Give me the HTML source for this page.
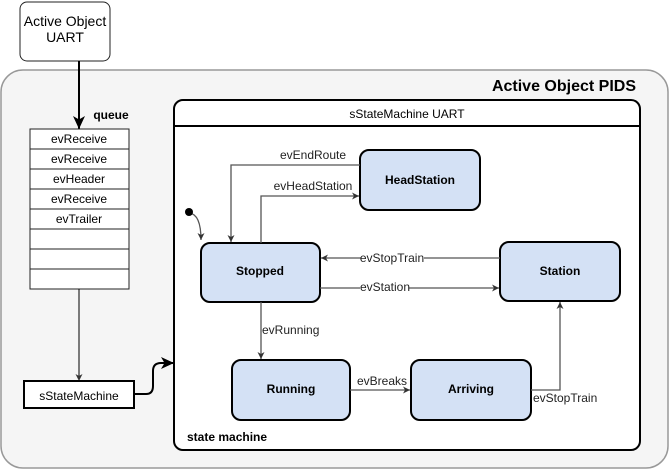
<!DOCTYPE html>
<html><head><style>body{margin:0;background:#fff}svg{display:block;font-family:"Liberation Sans",sans-serif}</style></head>
<body>
<svg width="672" height="471" viewBox="0 0 672 471" xmlns="http://www.w3.org/2000/svg">
<defs>
<marker id="a" markerWidth="8" markerHeight="8" refX="7" refY="4" orient="auto" markerUnits="userSpaceOnUse"><path d="M0,0.5 L7,4 L0,7.5 L2,4z" fill="#333"/></marker>
<marker id="b" markerWidth="14" markerHeight="12" refX="13" refY="6" orient="auto" markerUnits="userSpaceOnUse"><path d="M0,0 L13,6 L0,12 L3.5,6z" fill="#000"/></marker>
</defs>
<rect x="1" y="70" width="667" height="398" rx="22" fill="#f5f5f5" stroke="#999" stroke-width="1.5"/>
<text x="636" y="91" font-size="16" font-weight="bold" text-anchor="end">Active Object PIDS</text>
<rect x="20" y="2" width="90" height="59" rx="7" fill="#fff" stroke="#222"/>
<text x="65" y="26" font-size="14" text-anchor="middle">Active Object</text>
<text x="65" y="42" font-size="14" text-anchor="middle">UART</text>
<line x1="79" y1="61" x2="79" y2="129" stroke="#000" stroke-width="2" marker-end="url(#b)"/>
<text x="111" y="119" font-size="12" font-weight="bold" text-anchor="middle">queue</text>
<g stroke="#222" fill="#fff">
<rect x="30" y="129" width="99" height="20"/><rect x="30" y="149" width="99" height="20"/><rect x="30" y="169" width="99" height="20"/><rect x="30" y="189" width="99" height="20"/><rect x="30" y="209" width="99" height="20"/><rect x="30" y="229" width="99" height="20"/><rect x="30" y="249" width="99" height="20"/><rect x="30" y="269" width="99" height="20"/>
</g>
<g font-size="12" text-anchor="middle">
<text x="79" y="143">evReceive</text><text x="79" y="163">evReceive</text><text x="79" y="183">evHeader</text><text x="79" y="203">evReceive</text><text x="79" y="223">evTrailer</text>
</g>
<line x1="79" y1="289" x2="79" y2="381" stroke="#000" marker-end="url(#a)"/>
<rect x="24" y="381" width="110" height="27" fill="#fff" stroke="#000" stroke-width="2"/>
<text x="79" y="400" font-size="12" text-anchor="middle">sStateMachine</text>
<path d="M134,394 H146 Q153,394 153,386 V371 Q153,363 161,363 H174" fill="none" stroke="#000" stroke-width="2" marker-end="url(#b)"/>
<rect x="174" y="100" width="466" height="350" rx="9" fill="#fff" stroke="#000" stroke-width="2"/>
<line x1="174" y1="126" x2="640" y2="126" stroke="#000" stroke-width="2"/>
<text x="407" y="118" font-size="12" text-anchor="middle">sStateMachine UART</text>
<text x="187" y="441" font-size="12" font-weight="bold">state machine</text>
<g fill="#d4e1f5" stroke="#000" stroke-width="2">
<rect x="201" y="243" width="119" height="59" rx="9"/>
<rect x="360" y="150" width="120" height="60" rx="9"/>
<rect x="500" y="242" width="120" height="59" rx="9"/>
<rect x="232" y="360" width="118" height="60" rx="9"/>
<rect x="411" y="360" width="120" height="60" rx="9"/>
</g>
<g font-size="12" font-weight="bold" text-anchor="middle">
<text x="260" y="275">Stopped</text><text x="420" y="184">HeadStation</text><text x="560" y="275">Station</text><text x="291" y="393">Running</text><text x="471" y="393">Arriving</text>
</g>
<g fill="none" stroke="#555" stroke-width="1.3">
<path d="M360,165 H231 V242" marker-end="url(#a)"/>
<path d="M261,243 V196 H359" marker-end="url(#a)"/>
<path d="M500,258 H321" marker-end="url(#a)"/>
<path d="M320,288 H499" marker-end="url(#a)"/>
<path d="M261,302 V359" marker-end="url(#a)"/>
<path d="M350,390 H410" marker-end="url(#a)"/>
<path d="M531,390 H560 V302" marker-end="url(#a)"/>
<path d="M189,213 Q201,214 201,240" marker-end="url(#a)"/>
</g>
<circle cx="189" cy="212" r="4" fill="#000"/>
<g font-size="12" fill="#222">
<text x="313" y="159" text-anchor="middle">evEndRoute</text>
<text x="313" y="190" text-anchor="middle">evHeadStation</text>
<rect x="361" y="251" width="63" height="13" fill="#fff"/>
<text x="392" y="262" text-anchor="middle">evStopTrain</text>
<rect x="360" y="281" width="49" height="13" fill="#fff"/>
<text x="385" y="291" text-anchor="middle">evStation</text>
<text x="262" y="334">evRunning</text>
<text x="382" y="385" text-anchor="middle">evBreaks</text>
<text x="533" y="402">evStopTrain</text>
</g>
</svg>
</body></html>
